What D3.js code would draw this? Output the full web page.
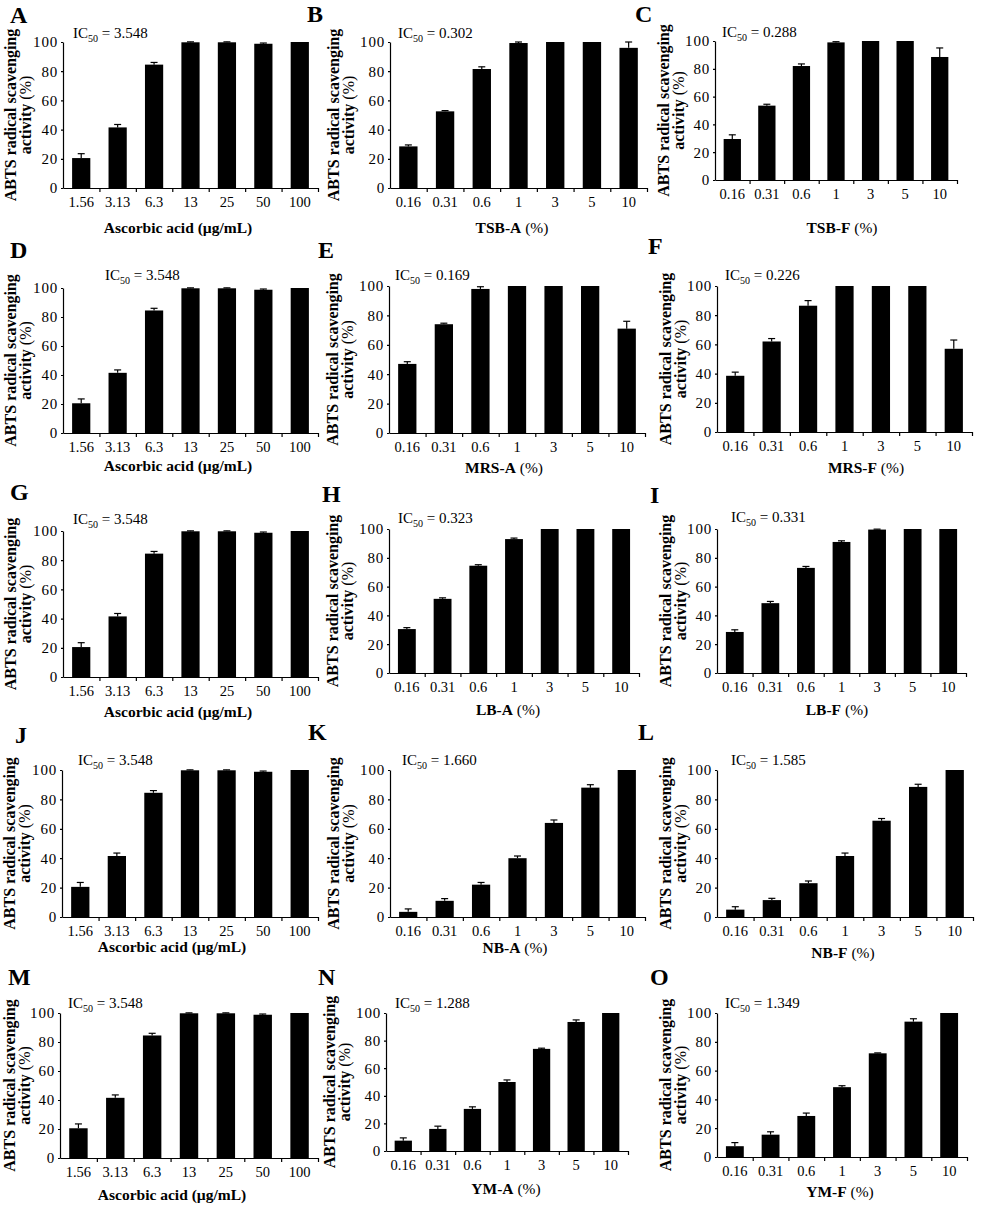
<!DOCTYPE html>
<html>
<head>
<meta charset="utf-8">
<script src="https://cdn.jsdelivr.net/npm/d3@7"></script>
<style>
  body { margin: 0; background: #fff; }
  svg text { font-family: "Liberation Serif", "Times New Roman", serif; fill: #000; }
  .tick text { font-size: 14.5px; }
  .y-axis .tick text { font-size: 15px; letter-spacing: 0.8px; }
  .axis-title { font-size: 15.5px; font-weight: bold; }
  .y-title { font-size: 16px; font-weight: bold; }
  .letter { font-size: 24px; font-weight: bold; }
  .ic50 { font-size: 15px; }
</style>
</head>
<body>
<div id="chart"></div>
<script>
'use strict';

// x categories
const ascorbicDoses = ['1.56', '3.13', '6.3', '13', '25', '50', '100'];
const mediumDoses = ['0.16', '0.31', '0.6', '1', '3', '5', '10'];
const yTicks = [0, 20, 40, 60, 80, 100];

// mean scavenging activity (%) and error (+)
const ascorbicMean = [20.5, 41.5, 84.5, 99.8, 99.8, 98.8, 100];
const ascorbicErr  = [3, 2, 1.5, 0.3, 0.3, 0.5, 0];
const tsbAMean = [28.5, 52.5, 81.5, 99.3, 100, 100, 96];
const tsbAErr  = [1, 0.5, 1.5, 0.7, 0, 0, 4];
const tsbFMean = [29.5, 53.5, 82, 99, 100, 100, 88.5];
const tsbFErr  = [3, 1, 1.5, 0.5, 0, 0, 6.5];
const mrsAMean = [47, 74, 98, 100, 100, 100, 71];
const mrsAErr  = [1.5, 0.7, 1.5, 0, 0, 0, 5];
const mrsFMean = [38.5, 62, 86.5, 100, 100, 100, 57];
const mrsFErr  = [2.5, 2, 3.5, 0, 0, 0, 6];
const lbAMean = [30.5, 51.5, 74.5, 93, 100, 100, 100];
const lbAErr  = [1, 0.7, 0.7, 0.7, 0, 0, 0];
const lbFMean = [28.5, 48.5, 73, 91, 99.6, 100, 100];
const lbFErr  = [1.5, 1.2, 1, 0.8, 0.3, 0, 0];
const nbAMean = [3.5, 11, 22, 40, 64, 88, 100];
const nbAErr  = [2, 1.5, 1.5, 1.5, 2, 2, 0];
const nbFMean = [5, 11.5, 23, 41.5, 65.5, 88.5, 100];
const nbFErr  = [2, 1.2, 1.5, 2, 1.5, 1.8, 0];
const ymAMean = [7.5, 16, 30.5, 50, 74, 93.5, 100];
const ymAErr  = [2, 2, 1.5, 1.5, 0.5, 1.5, 0];
const ymFMean = [7.5, 15.5, 28.5, 48.5, 72, 94, 100];
const ymFErr  = [2.5, 2, 2, 1, 0.3, 2, 0];

const panelLetters = ['A', 'B', 'C', 'D', 'E', 'F', 'G', 'H', 'I', 'J', 'K', 'L', 'M', 'N', 'O'];
const ic50Values = ['3.548', '0.302', '0.288', '3.548', '0.169', '0.226', '3.548', '0.323',
  '0.331', '3.548', '1.660', '1.585', '3.548', '1.288', '1.349'];
const xTitles = ['Ascorbic acid (µg/mL)', 'TSB-A', 'TSB-F', 'Ascorbic acid (µg/mL)', 'MRS-A', 'MRS-F',
  'Ascorbic acid (µg/mL)', 'LB-A', 'LB-F', 'Ascorbic acid (µg/mL)', 'NB-A', 'NB-F',
  'Ascorbic acid (µg/mL)', 'YM-A', 'YM-F'];
const panelMeans = [ascorbicMean, tsbAMean, tsbFMean, ascorbicMean, mrsAMean, mrsFMean,
  ascorbicMean, lbAMean, lbFMean, ascorbicMean, nbAMean, nbFMean, ascorbicMean, ymAMean, ymFMean];
const panelErrs = [ascorbicErr, tsbAErr, tsbFErr, ascorbicErr, mrsAErr, mrsFErr,
  ascorbicErr, lbAErr, lbFErr, ascorbicErr, nbAErr, nbFErr, ascorbicErr, ymAErr, ymFErr];

// panel frames: x0/x1 axis extent, y0 = 100 line, y1 = 0 line; tx,ty title; lx,ly letter; ix,iy IC50; yt y-title
const frames = [
  {x0: 63, y0: 42, y1: 188, x1: 318, tx: 178, ty: 228, lx: 10, ly: 23, ix: 73, iy: 33, yt: 47},
  {x0: 390, y0: 42, y1: 188, x1: 647, tx: 512, ty: 228, lx: 307, ly: 22, ix: 398, iy: 33, yt: 51},
  {x0: 715, y0: 41, y1: 180, x1: 957, tx: 842, ty: 228, lx: 635, ly: 22, ix: 722, iy: 32, yt: 46},
  {x0: 63, y0: 288, y1: 433, x1: 318, tx: 178, ty: 466, lx: 10, ly: 258, ix: 105, iy: 275, yt: 47},
  {x0: 389, y0: 286, y1: 433, x1: 645, tx: 504, ty: 468, lx: 318, ly: 258, ix: 395, iy: 275, yt: 51},
  {x0: 717, y0: 286, y1: 432, x1: 972, tx: 866, ty: 468, lx: 648, ly: 254, ix: 725, iy: 275, yt: 46},
  {x0: 63, y0: 531, y1: 677, x1: 318, tx: 178, ty: 712, lx: 10, ly: 500, ix: 73, iy: 519, yt: 47},
  {x0: 389, y0: 529, y1: 673, x1: 639, tx: 508, ty: 710, lx: 322, ly: 502, ix: 398, iy: 518, yt: 51},
  {x0: 717, y0: 529, y1: 673, x1: 966, tx: 837, ty: 710, lx: 650, ly: 503, ix: 731, iy: 517, yt: 46},
  {x0: 62, y0: 770, y1: 917, x1: 318, tx: 172, ty: 947, lx: 15, ly: 743, ix: 78, iy: 760, yt: 47},
  {x0: 390, y0: 770, y1: 917, x1: 645, tx: 515, ty: 948, lx: 308, ly: 740, ix: 402, iy: 760, yt: 51},
  {x0: 717, y0: 770, y1: 917, x1: 973, tx: 843, ty: 953, lx: 638, ly: 740, ix: 731, iy: 760, yt: 46},
  {x0: 60, y0: 1013, y1: 1158, x1: 318, tx: 172, ty: 1195, lx: 8, ly: 985, ix: 68, iy: 1003, yt: 45},
  {x0: 386, y0: 1013, y1: 1151, x1: 628, tx: 506, ty: 1189, lx: 318, ly: 985, ix: 395, iy: 1003, yt: 51},
  {x0: 717, y0: 1013, y1: 1157, x1: 967, tx: 840, ty: 1192, lx: 650, ly: 985, ix: 725, iy: 1003, yt: 46}
];

class BarPanel {
  constructor(svg, labels, means, errs, frame) {
    this.svg = svg;
    this.labels = labels;
    this.means = means;
    this.errs = errs;
    this.f = frame;
  }

  init(letter, ic50, title) {
    const f = this.f;
    const g = this.svg.append('g');

    const x = d3.scaleBand()
        .domain(this.labels)
        .range([f.x0, f.x1])
        .paddingInner(0.5)
        .paddingOuter(0.25);
    const xEdge = d3.scaleLinear().domain([0, this.labels.length]).range([f.x0, f.x1]);
    const y = d3.scaleLinear().domain([0, 100]).range([f.y1, f.y0]);

    const rows = this.labels.map((d, i) => ({label: d, mean: this.means[i], err: this.errs[i]}));

    // bars
    g.selectAll('rect.bar')
      .data(rows)
      .join('rect')
        .attr('class', 'bar')
        .attr('x', d => x(d.label))
        .attr('width', x.bandwidth())
        .attr('y', d => y(d.mean))
        .attr('height', d => y(0) - y(d.mean))
        .attr('fill', '#000');

    // error bars (upper only)
    const eb = g.selectAll('g.err')
      .data(rows.filter(d => d.err > 0))
      .join('g')
        .attr('class', 'err')
        .attr('stroke', '#000')
        .attr('stroke-width', 1.2);
    eb.append('line')
        .attr('x1', d => x(d.label) + x.bandwidth() / 2)
        .attr('x2', d => x(d.label) + x.bandwidth() / 2)
        .attr('y1', d => y(d.mean))
        .attr('y2', d => y(d.mean + d.err));
    eb.append('line')
        .attr('x1', d => x(d.label) + x.bandwidth() / 2 - 3.5)
        .attr('x2', d => x(d.label) + x.bandwidth() / 2 + 3.5)
        .attr('y1', d => y(d.mean + d.err))
        .attr('y2', d => y(d.mean + d.err));

    // x axis line with ticks between categories
    g.append('g')
        .attr('transform', `translate(0, ${f.y1})`)
        .call(d3.axisBottom(xEdge).tickValues(d3.range(1, this.labels.length + 1))
          .tickSize(4).tickSizeOuter(0).tickFormat(''));

    // category labels
    const xl = g.append('g')
        .attr('transform', `translate(0, ${f.y1})`)
        .call(d3.axisBottom(x).tickSize(0).tickPadding(9));
    xl.select('.domain').remove();

    // y axis
    g.append('g')
        .attr('class', 'y-axis')
        .attr('transform', `translate(${f.x0}, 0)`)
        .call(d3.axisLeft(y).tickValues(yTicks).tickSize(2).tickSizeOuter(0).tickPadding(3));

    g.selectAll('.tick text').attr('font-family', null).attr('font-size', null);
    g.selectAll('.domain, .tick line').attr('stroke', '#000').attr('stroke-width', 1.2);

    // x axis title
    const xt = g.append('text')
        .attr('class', 'axis-title')
        .attr('x', f.tx)
        .attr('y', f.ty + 5)
        .attr('text-anchor', 'middle')
        .text(title);
    if (title.indexOf('(') < 0) {
      xt.append('tspan').attr('font-weight', 'normal').text(' (%)');
    }

    // y axis title, two lines
    const cy = (f.y0 + f.y1) / 2;
    g.append('text')
        .attr('class', 'y-title')
        .attr('transform', `translate(${f.x0 - f.yt}, ${cy}) rotate(-90)`)
        .attr('text-anchor', 'middle')
        .text('ABTS radical scavenging');
    g.append('text')
        .attr('class', 'y-title')
        .attr('transform', `translate(${f.x0 - f.yt + 15}, ${cy}) rotate(-90)`)
        .attr('text-anchor', 'middle')
        .text('activity ')
      .append('tspan')
        .attr('font-weight', 'normal')
        .text('(%)');

    // panel letter
    g.append('text')
        .attr('class', 'letter')
        .attr('x', f.lx)
        .attr('y', f.ly)
        .text(letter);

    // IC50 label
    const ic = g.append('text')
        .attr('class', 'ic50')
        .attr('x', f.ix)
        .attr('y', f.iy + 5)
        .text('IC');
    ic.append('tspan').attr('font-size', '10px').attr('dy', 4).text('50');
    ic.append('tspan').attr('dy', -4).text(' = ' + ic50);
  }
}

const svg = d3.select('#chart')
  .append('svg')
    .attr('width', 1000)
    .attr('height', 1207);

svg.append('rect')
    .attr('width', 1000)
    .attr('height', 1207)
    .attr('fill', '#fff');

panelLetters.map((letter, i) => {
  const labels = xTitles[i].startsWith('Ascorbic') ? ascorbicDoses : mediumDoses;
  const panel = new BarPanel(svg, labels, panelMeans[i], panelErrs[i], frames[i]);
  panel.init(letter, ic50Values[i], xTitles[i]);
});
</script>
</body>
</html>
